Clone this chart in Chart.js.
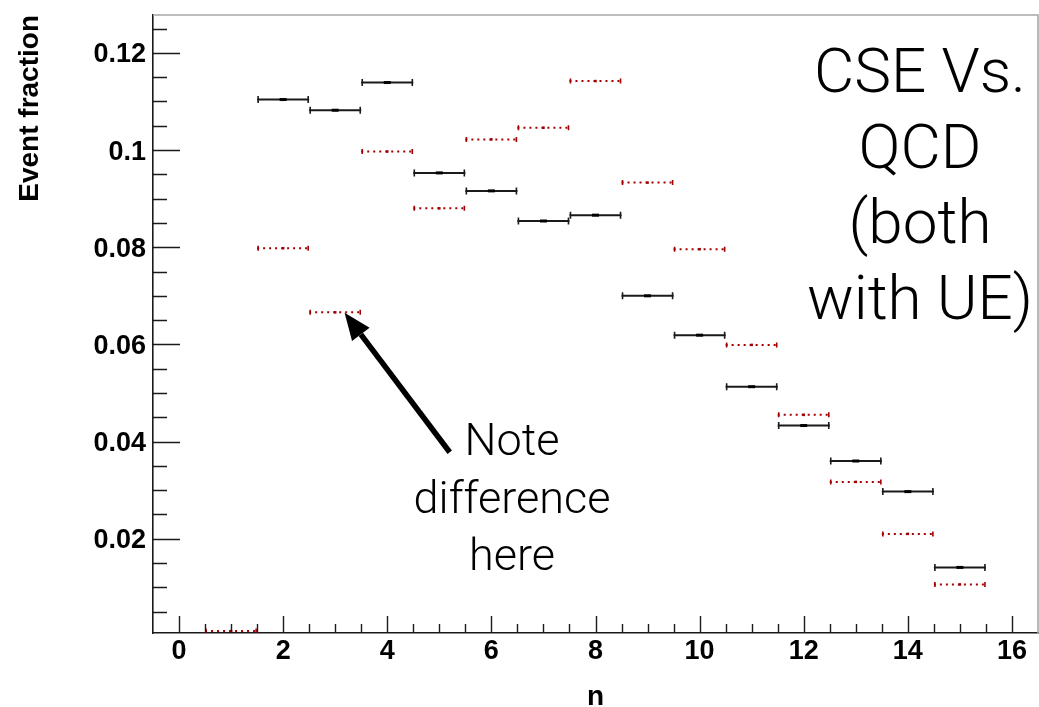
<!DOCTYPE html>
<html>
<head>
<meta charset="utf-8">
<script src="https://cdn.jsdelivr.net/npm/chart.js@4.4.0/dist/chart.umd.min.js"></script>
<style>
  html, body { margin: 0; padding: 0; background: #fff; }
</style>
</head>
<body>
<canvas id="chart" width="1039" height="707"></canvas>
<script>
// ======================
// DATA
// ======================
const nBins = [1, 2, 3, 4, 5, 6, 7, 8, 9, 10, 11, 12, 13, 14, 15];
const cseFraction = [null, 0.1104, 0.1082, 0.1139, 0.0953, 0.0916, 0.0854, 0.0866,
                     0.0700, 0.0619, 0.0513, 0.0433, 0.0360, 0.0297, 0.0141];
const qcdFraction = [0.0010, 0.0798, 0.0666, 0.0997, 0.0880, 0.1022, 0.1046, 0.1142,
                     0.0933, 0.0796, 0.0599, 0.0455, 0.0317, 0.0210, 0.0106];
const binHalfWidth = 0.5;

const xTicks = [0, 2, 4, 6, 8, 10, 12, 14, 16];
const xTickLabels = ["0", "2", "4", "6", "8", "10", "12", "14", "16"];
const yTicks = [0.02, 0.04, 0.06, 0.08, 0.1, 0.12];
const yTickLabels = ["0.02", "0.04", "0.06", "0.08", "0.1", "0.12"];

const titleLines = ["CSE Vs.", "QCD", "(both", "with UE)"];
const noteLines = ["Note", "difference", "here"];

// ======================
// STYLE
// ======================
const BLACK = "#1a1a1a";
const RED = "#a30000";
const tickFont = { family: "'Liberation Sans', Arial, sans-serif", size: 27, weight: "bold" };
const titleFont = { family: "'Liberation Sans', Arial, sans-serif", size: 28, weight: "bold" };
const lightFont = "Roboto, 'Liberation Sans', sans-serif";

function points(values) {
  return nBins
    .map((n, i) => ({ x: n, y: values[i] }))
    .filter(p => p.y !== null);
}

// keep the plot frame where the layout padding puts it
function noLabelPadding(s) {
  s.paddingLeft = 0;
  s.paddingRight = 0;
  s.paddingTop = 0;
  s.paddingBottom = 0;
}

// horizontal bin-width bars with end caps
const errorBars = {
  id: "errorBars",
  beforeDatasetsDraw(chart) {
    const { ctx, chartArea, scales: { x, y } } = chart;
    ctx.save();
    ctx.beginPath();
    ctx.rect(chartArea.left, chartArea.top, chartArea.width, chartArea.height);
    ctx.clip();

    function draw(values, color, dash, capH) {
      ctx.strokeStyle = color;
      values.forEach((v, i) => {
        if (v === null) return;
        const x0 = x.getPixelForValue(nBins[i] - binHalfWidth);
        const x1 = x.getPixelForValue(nBins[i] + binHalfWidth);
        const py = y.getPixelForValue(v);
        ctx.lineWidth = 2;
        ctx.setLineDash(dash);
        ctx.beginPath();
        ctx.moveTo(x0, py);
        ctx.lineTo(x1, py);
        ctx.stroke();
        ctx.setLineDash([]);
        ctx.lineWidth = 1.6;
        ctx.beginPath();
        ctx.moveTo(x0 + 1, py - capH);
        ctx.lineTo(x0 + 1, py + capH);
        ctx.moveTo(x1 - 1, py - capH);
        ctx.lineTo(x1 - 1, py + capH);
        ctx.stroke();
      });
    }

    draw(qcdFraction, RED, [2, 4], 2.5);
    draw(cseFraction, BLACK, [], 3.5);
    ctx.restore();
  }
};

// inner tick marks and the grey frame on top / right
const frameTicks = {
  id: "frameTicks",
  afterDraw(chart) {
    const { ctx, chartArea: a, scales: { x, y } } = chart;
    ctx.save();
    ctx.strokeStyle = "#a8a8a8";
    ctx.lineWidth = 1.6;
    ctx.beginPath();
    ctx.moveTo(a.left, a.top);
    ctx.lineTo(a.right, a.top);
    ctx.lineTo(a.right, a.bottom);
    ctx.stroke();

    ctx.strokeStyle = BLACK;
    ctx.lineWidth = 1.4;
    ctx.beginPath();
    // y: minor every 0.005, major every 0.02
    for (let k = 1; k <= 25; k++) {
      const v = k * 0.005;
      const py = Math.round(y.getPixelForValue(v)) + 0.5;
      const len = k % 4 === 0 ? 27 : 14;
      ctx.moveTo(a.left, py);
      ctx.lineTo(a.left + len, py);
    }
    // x: minor every 0.5, major every 2
    for (let k = 0; k <= 32; k++) {
      const v = k * 0.5;
      const px = Math.round(x.getPixelForValue(v)) + 0.5;
      const len = k % 4 === 0 ? 17 : 9;
      ctx.moveTo(px, a.bottom);
      ctx.lineTo(px, a.bottom - len);
    }
    ctx.stroke();
    ctx.restore();
  }
};

// big caption and the arrow note
const notes = {
  id: "notes",
  afterDraw(chart) {
    const { ctx, scales: { x, y } } = chart;
    ctx.save();
    ctx.fillStyle = "#000";
    ctx.textAlign = "center";
    ctx.textBaseline = "alphabetic";

    ctx.font = "300 62px " + lightFont;
    titleLines.forEach((t, i) => ctx.fillText(t, 920, 92 + i * 75.5));

    ctx.font = "300 45px " + lightFont;
    noteLines.forEach((t, i) => ctx.fillText(t, 512, 455 + i * 57.5));

    // arrow pointing at the n = 3 bin
    const tipX = x.getPixelForValue(3.18), tipY = y.getPixelForValue(0.0665);
    const tailX = x.getPixelForValue(5.2), tailY = y.getPixelForValue(0.0378);
    const ang = Math.atan2(tailY - tipY, tailX - tipX);
    const headLen = 27, headW = 11;
    const bx = tipX + Math.cos(ang) * headLen, by = tipY + Math.sin(ang) * headLen;
    ctx.strokeStyle = "#000";
    ctx.lineWidth = 5.5;
    ctx.beginPath();
    ctx.moveTo(tailX, tailY);
    ctx.lineTo(bx, by);
    ctx.stroke();
    ctx.beginPath();
    ctx.moveTo(tipX, tipY);
    ctx.lineTo(bx - Math.sin(ang) * headW, by + Math.cos(ang) * headW);
    ctx.lineTo(bx + Math.sin(ang) * headW, by - Math.cos(ang) * headW);
    ctx.closePath();
    ctx.fill();
    ctx.restore();
  }
};

new Chart(document.getElementById("chart"), {
  type: "scatter",
  data: {
    datasets: [
      {
        label: "QCD",
        data: points(qcdFraction),
        pointStyle: "rect",
        pointRadius: 1.8,
        backgroundColor: RED,
        borderColor: RED,
        borderWidth: 0
      },
      {
        label: "CSE",
        data: points(cseFraction),
        pointStyle: "line",
        pointRadius: 3.5,
        borderColor: "#000",
        borderWidth: 3
      }
    ]
  },
  options: {
    responsive: false,
    animation: false,
    events: [],
    layout: { autoPadding: false, padding: { top: 15, right: 1, left: 0, bottom: 0 } },
    plugins: {
      legend: { display: false },
      tooltip: { enabled: false }
    },
    scales: {
      x: {
        type: "linear",
        position: "bottom",
        min: -0.5,
        max: 16.5,
        afterFit(s) { s.height = 74; noLabelPadding(s); },
        afterBuildTicks(s) { s.ticks = xTicks.map(v => ({ value: v })); },
        grid: { display: false, drawTicks: false },
        border: { display: true, color: BLACK, width: 1.6 },
        ticks: {
          font: tickFont,
          color: "#000",
          padding: 2,
          maxRotation: 0,
          autoSkip: false,
          callback: (v, i) => xTickLabels[i]
        },
        title: {
          display: true,
          text: "n",
          color: "#000",
          padding: 0,
          font: Object.assign({}, titleFont, { lineHeight: 0.7 })
        }
      },
      y: {
        type: "linear",
        position: "left",
        min: 0.0006,
        max: 0.1278,
        afterFit(s) { s.width = 153; noLabelPadding(s); },
        afterBuildTicks(s) { s.ticks = yTicks.map(v => ({ value: v })); },
        grid: { display: false, drawTicks: false },
        border: { display: true, color: BLACK, width: 1.6 },
        ticks: {
          font: tickFont,
          color: "#000",
          padding: 7,
          labelOffset: 2,
          autoSkip: false,
          callback: (v, i) => yTickLabels[i]
        },
        title: {
          display: true,
          text: "Event fraction",
          align: "end",
          color: "#000",
          padding: { top: 13.5, bottom: 0 },
          font: titleFont
        }
      }
    }
  },
  plugins: [errorBars, frameTicks, notes]
});
</script>
</body>
</html>
